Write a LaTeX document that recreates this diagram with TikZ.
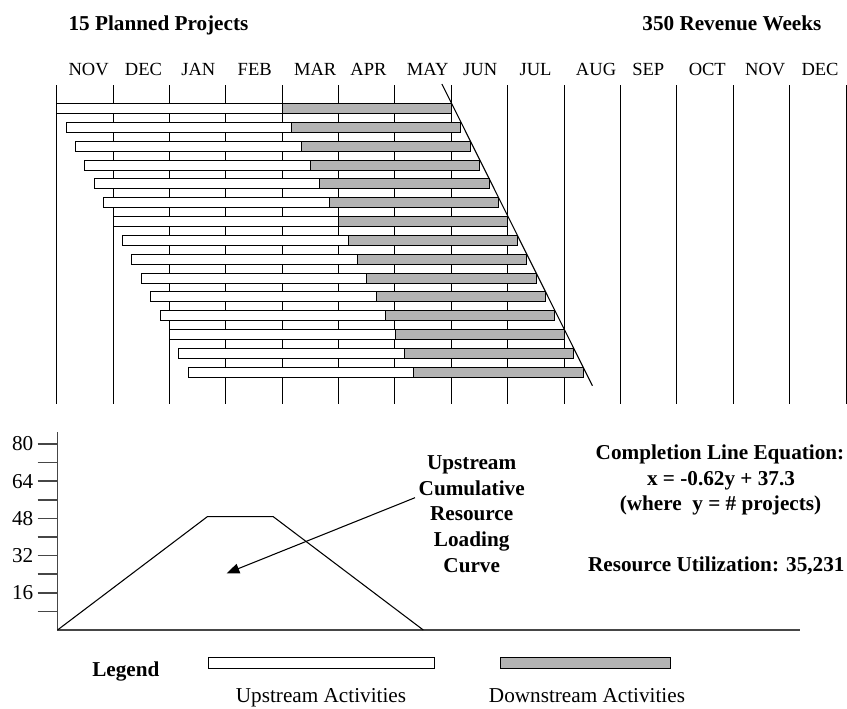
\documentclass[tikz,border=0pt]{standalone}
\usepackage{fontspec}
\setmainfont{Liberation Serif}
\usetikzlibrary{arrows.meta}
\definecolor{dsgray}{RGB}{179,179,179}
\definecolor{axgray}{RGB}{70,70,70}
\tikzset{
  gridline/.style={line width=0.75pt, black},
  upbar/.style={draw=black, line width=0.9pt, fill=white},
  downbar/.style={draw=black, line width=0.9pt, fill=dsgray},
  monthlbl/.style={font=\fontsize{13.9}{16}\selectfont, anchor=base west, inner sep=0pt},
  boldlbl/.style={font=\bfseries\fontsize{15.9}{19}\selectfont, inner sep=0pt},
  reglbl/.style={font=\fontsize{15.9}{19}\selectfont, inner sep=0pt},
  axisline/.style={line width=1.1pt, axgray},
  curveline/.style={line width=0.8pt, black},
}
\begin{document}
\begin{tikzpicture}[x=0.75pt,y=-0.75pt]
\useasboundingbox (0,0) rectangle (847,708);

% titles
\node[boldlbl, anchor=base west] (title1) at (68.3,30.7) {15 Planned Projects};
\node[boldlbl, anchor=base east] (title2) at (821.7,30.7) {350 Revenue Weeks};

% month labels
\foreach \m [count=\k from 0] in {NOV,DEC,JAN,FEB,MAR,APR,MAY,JUN,JUL,AUG,SEP,OCT,NOV,DEC} {
  \node[monthlbl] (mon\k) at ({68.3+56.38*\k},75) {\m};
}

% vertical grid lines
\foreach \k in {0,...,14} {
  \pgfmathsetmacro\gx{floor(56.7+56.38*\k)+0.5}
  \draw[gridline] (\gx,85) -- (\gx,404);
}

% project bars
\foreach \i in {0,...,14} {
  \pgfmathsetmacro\barx{floor(56.7+9.4*\i)+0.5}
  \pgfmathsetmacro\bary{floor(103.5+18.84*\i)+0.5}
  \pgfmathsetmacro\barm{floor(56.7+9.4*\i+225.6)+0.5}
  \pgfmathsetmacro\bare{floor(56.7+9.4*\i+394.8)+0.5}
  \draw[upbar] (\barx,\bary) rectangle (\barm,\bary+10);
  \draw[downbar] (\barm,\bary) rectangle (\bare,\bary+10);
}

% completion line
\coordinate (cl1) at (441.9,84);
\coordinate (cl2) at (592.4,385.7);
\draw[curveline] (cl1) -- (cl2);

% lower chart axes
\coordinate (origin) at (57.5,630);
\coordinate (ytop) at (57.5,432.3);
\coordinate (xend) at (800,630);
\draw[axisline] (ytop) -- (origin) -- (xend);
\foreach \k in {1,...,10} {
  \draw[axisline] (37.7,{630-18.6*\k}) -- (57.5,{630-18.6*\k});
}
\foreach \v [count=\k] in {16,32,48,64,80} {
  \node[reglbl, anchor=east] (yl\v) at (33.5,{630-37.2*\k}) {\v};
}

% loading curve
\coordinate (c1) at (207.3,516.7);
\coordinate (c2) at (273.3,516.7);
\coordinate (c3) at (423.3,630);
\draw[curveline] (origin) -- (c1) -- (c2) -- (c3);

% curve label and arrow
\node[boldlbl, anchor=base] (u1) at (471.7,469.3) {Upstream};
\node[boldlbl, anchor=base] (u2) at (471.7,495) {Cumulative};
\node[boldlbl, anchor=base] (u3) at (471.7,520.7) {Resource};
\node[boldlbl, anchor=base] (u4) at (471.7,546.4) {Loading};
\node[boldlbl, anchor=base] (u5) at (471.7,572) {Curve};
\coordinate (arrS) at (415,497.7);
\coordinate (arrT) at (226.7,573.3);
\draw[curveline, -{Triangle[length=9.5pt,width=7.5pt]}] (arrS) -- (arrT);

% equation texts
\node[boldlbl, anchor=base] (eq1) at (720,459.3) {Completion Line Equation:};
\node[boldlbl, anchor=base] (eq2) at (721,485) {x = -0.62y + 37.3};
\node[boldlbl, anchor=base] (eq3) at (720.5,510) {(where\ \ y = \# projects)};
\node[boldlbl, anchor=base] (ru) at (716.3,571.7) {Resource Utilization: 35,231};

% legend
\node[boldlbl, anchor=base west] (leg) at (92,676) {Legend};
\draw[upbar] (208.5,657.5) rectangle (434.5,668.5);
\draw[downbar] (500.5,657.5) rectangle (670.5,668.5);
\node[reglbl, anchor=base] (legU) at (321,702) {Upstream Activities};
\node[reglbl, anchor=base] (legD) at (587,702) {Downstream Activities};
\end{tikzpicture}
\end{document}
